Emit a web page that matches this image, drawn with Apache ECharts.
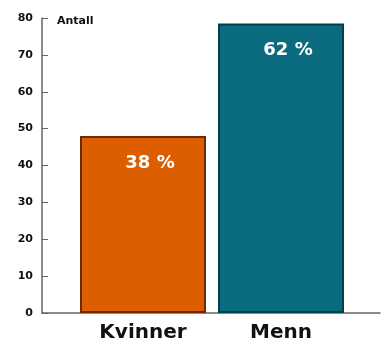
<!DOCTYPE html>
<html>
<head>
<meta charset="utf-8">
<script src="https://cdn.jsdelivr.net/npm/echarts@6/dist/echarts.min.js"></script>
<style>html,body{margin:0;padding:0;background:#fff}#c{width:382px;height:346px}</style>
</head>
<body>
<div id="c"></div>
<script>
const categories = ['Kvinner', 'Menn'];
const values = [48, 78.5];
const percentLabels = ['38 %', '62 %'];
const yTicks = [0, 10, 20, 30, 40, 50, 60, 70, 80];
const axisName = 'Antall';

const fills = ['#dd5e00', '#0b6b7e'];
const borders = ['#6e2a05', '#033f4a'];

const chart = echarts.init(document.getElementById('c'), null, {renderer: 'canvas'});
chart.setOption({
  animation: false,
  title: {
    text: axisName, left: 52, top: 11,
    textStyle: {fontFamily: 'DejaVu Sans', fontSize: 11, fontWeight: 'bold', color: '#111'}
  },
  grid: [
    {left: 74, right: 32, top: 18, bottom: 33},
    {left: 42, right: 2, top: 18, bottom: 33}
  ],
  xAxis: [
    {
      type: 'category', gridIndex: 0, data: categories,
      axisLine: {show: false}, axisTick: {show: false},
      axisLabel: {fontFamily: 'DejaVu Sans', fontSize: 20, fontWeight: 'bold', color: '#111', margin: 10}
    },
    {
      type: 'value', gridIndex: 1, min: 0, max: 1,
      axisLine: {show: true, lineStyle: {color: '#666', width: 1.5}},
      axisTick: {show: false}, axisLabel: {show: false}, splitLine: {show: false}
    }
  ],
  yAxis: [
    {type: 'value', gridIndex: 0, min: yTicks[0], max: yTicks[yTicks.length - 1], interval: 10, show: false},
    {
      type: 'value', gridIndex: 1, min: yTicks[0], max: yTicks[yTicks.length - 1], interval: 10,
      axisLine: {show: true, lineStyle: {color: '#666', width: 1.5}},
      axisTick: {show: true, inside: true, length: 6, lineStyle: {color: '#666'}},
      axisLabel: {fontFamily: 'DejaVu Sans', fontSize: 11, fontWeight: 'bold', color: '#111', margin: 9},
      splitLine: {show: false}
    }
  ],
  series: [{
    type: 'bar', xAxisIndex: 0, yAxisIndex: 0,
    barWidth: 126,
    data: values.map((v, i) => ({
      value: v,
      itemStyle: {color: fills[i], borderColor: borders[i], borderWidth: 2},
      label: {formatter: percentLabels[i]}
    })),
    label: {
      show: true, position: 'insideTop', distance: 18, offset: [7, 0],
      fontFamily: 'DejaVu Sans', fontSize: 18, fontWeight: 'bold', color: '#fff'
    }
  }]
});
</script>
</body>
</html>
